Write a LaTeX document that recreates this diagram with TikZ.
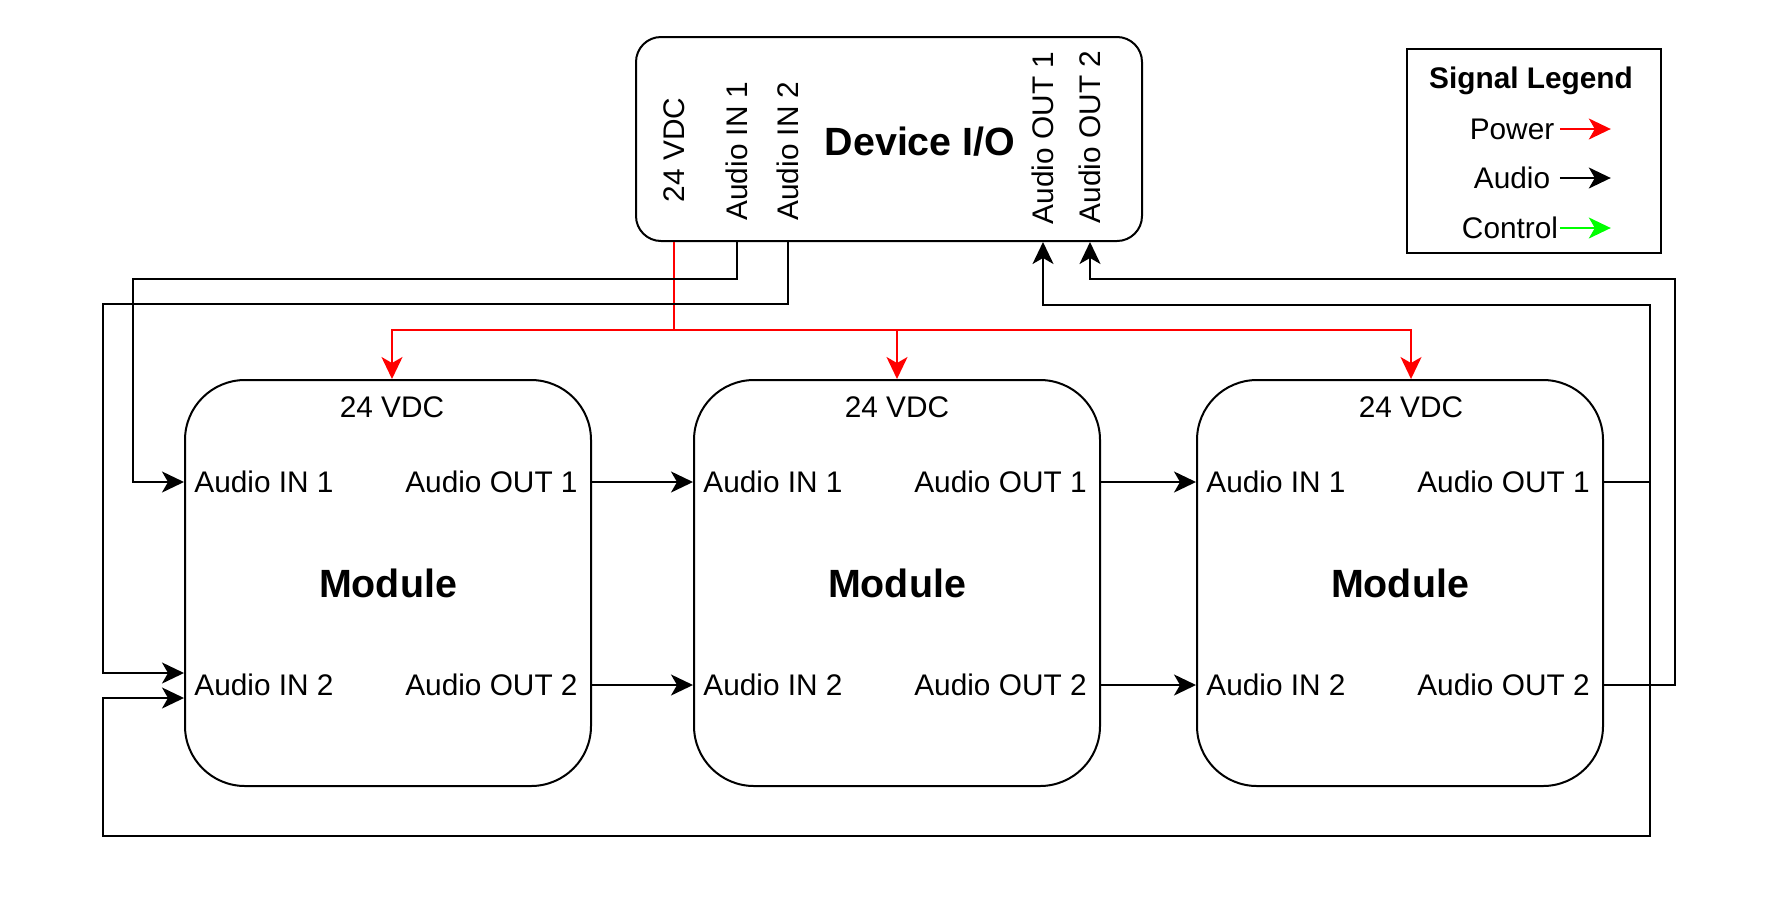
\documentclass[tikz,border=0pt]{standalone}
\usepackage{fontspec}
\setmainfont{Liberation Sans}
\usetikzlibrary{arrows.meta,calc}

\definecolor{pwrred}{HTML}{FF0000}
\definecolor{ctrlgreen}{HTML}{00FF00}

\tikzset{
  module/.style={draw, line width=1pt, rounded corners=30pt, minimum width=203pt, minimum height=203pt, font=\fontsize{19.7pt}{23pt}\selectfont\bfseries},
  devbox/.style={draw, line width=1pt, rounded corners=12.5pt, minimum width=253pt, minimum height=102pt},
  port/.style={inner sep=0pt, font=\fontsize{14.9pt}{17pt}\selectfont},
  vport/.style={port, rotate=90},
  tip/.style={-{Stealth[length=11pt,width=10.5pt,inset=3pt]}},
  audioline/.style={draw, line width=1pt, tip},
  powerline/.style={draw=pwrred, line width=0.9pt, tip, color=pwrred},
  ctrlline/.style={draw=ctrlgreen, line width=0.9pt, tip, color=ctrlgreen}
}

\begin{document}
\begin{tikzpicture}[x=0.5pt,y=-0.5pt]
  \useasboundingbox (0,0) rectangle (1776,911);

  % device box with its rotated port labels
  \node[devbox] (dev) at (889,139) {};
  \node[vport] (d24) at (674,150) {24 VDC};
  \node[vport] (din1) at (737,151) {Audio IN 1};
  \node[vport] (din2) at (788,151) {Audio IN 2};
  \node[port, font=\fontsize{19.7pt}{23pt}\selectfont\bfseries] (dtitle) at (920,142) {Device I/O};
  \node[vport] (dout1) at (1043,138) {Audio OUT 1};
  \node[vport] (dout2) at (1090,137) {Audio OUT 2};

  % the three modules
  \foreach \n/\x/\v in {1/388/2,2/897/0,3/1400/5.5} {
    \node[module] (m\n) at (\x,583) {Module};
    \coordinate (m\n p) at ([xshift=\v pt]m\n.north);
    \node[port] (m\n v) at ([yshift=-14pt]m\n p) {24 VDC};
    \node[port, anchor=west] (m\n i1) at ([xshift=5pt,yshift=50.5pt]m\n.west) {Audio IN 1};
    \node[port, anchor=west] (m\n i2) at ([xshift=5pt,yshift=-51pt]m\n.west) {Audio IN 2};
    \node[port, anchor=east] (m\n o1) at ([xshift=-7pt,yshift=50.5pt]m\n.east) {Audio OUT 1};
    \node[port, anchor=east] (m\n o2) at ([xshift=-7pt,yshift=-51pt]m\n.east) {Audio OUT 2};
  }

  % legend
  \node[draw, line width=0.8pt, minimum width=127pt, minimum height=102pt] (legend) at (1534,151) {};
  \node[port, font=\fontsize{14.9pt}{17pt}\selectfont\bfseries] (ltitle) at (1531,81) {Signal Legend};
  \node[port] (lp) at (1512,129) {Power};
  \node[port] (la) at (1512,178) {Audio};
  \node[port] (lc) at (1510,228) {Control};
  \draw[powerline] ($(legend.east |- lp)+(-102,0)$) -- ($(legend.east |- lp)+(-51,0)$);
  \draw[audioline] ($(legend.east |- la)+(-102,0)$) -- ($(legend.east |- la)+(-51,0)$);
  \draw[ctrlline] ($(legend.east |- lc)+(-102,0)$) -- ($(legend.east |- lc)+(-51,0)$);

  % power distribution
  \coordinate (pj) at ($(dev.south -| d24)+(0,88)$);
  \draw[powerline] (dev.south -| d24) -- (pj) -| (m1p);
  \draw[powerline] (pj) -| (m2p);
  \draw[powerline] (pj) -| (m3p);

  % device inputs to first module
  \draw[audioline] (dev.south -| din1) |- (133,279) |- (m1.west |- m1i1);
  \draw[audioline] (dev.south -| din2) |- (103,304) |- ($(m1.west |- m1i2)+(0,-12)$);

  % module chain
  \foreach \a/\b in {1/2,2/3} {
    \draw[audioline] (m\a.east |- m\a o1) -- (m\b.west |- m\b i1);
    \draw[audioline] (m\a.east |- m\a o2) -- (m\b.west |- m\b i2);
  }

  % returns from last module
  \coordinate (ret) at ($(m3.east |- m3o1)+(46,0)$);
  \draw[audioline] (m3.east |- m3o1) -- (ret) |- (dout1 |- 0,305) -- (dev.south -| dout1);
  \draw[audioline] (ret) |- (103,836) |- ($(m1.west |- m1i2)+(0,13)$);
  \draw[audioline] (m3.east |- m3o2) -| (1675,279) -| (dev.south -| dout2);
\end{tikzpicture}
\end{document}
